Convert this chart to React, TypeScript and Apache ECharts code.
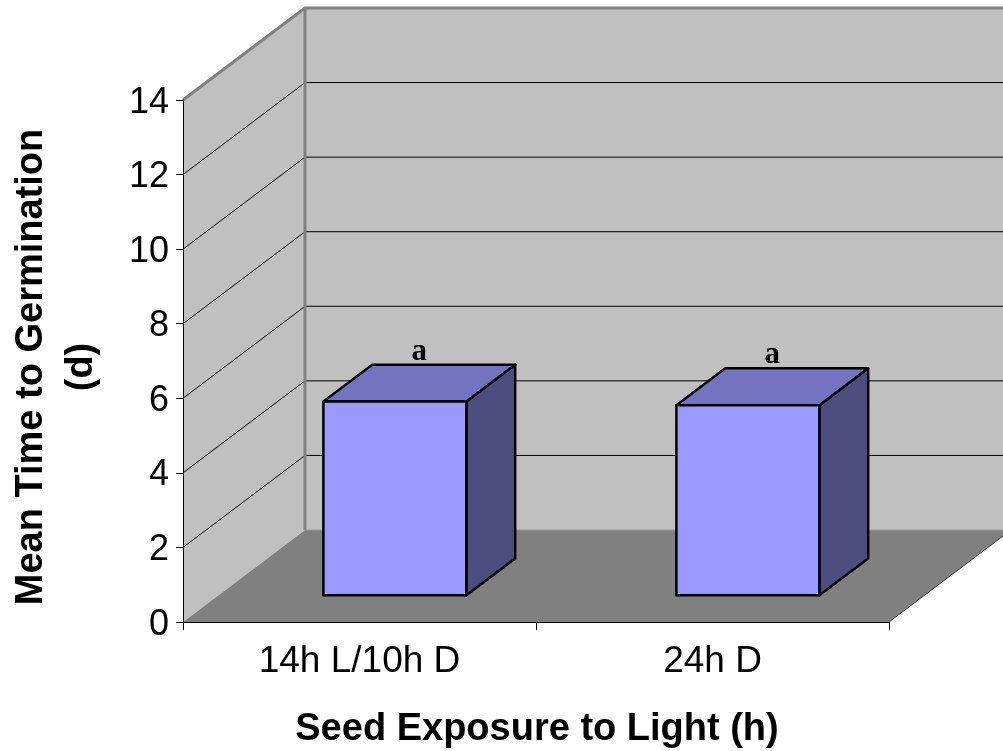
import React, { useEffect, useRef } from "react";
import * as echarts from "echarts";

const categories = ["14h L/10h D", "24h D"];
const meanDays = [5.2, 5.1];
const annotations = ["a", "a"];
const yTicks = [0, 2, 4, 6, 8, 10, 12, 14];

const DEPTH_X = 122;
const DEPTH_Y = 92;
const BAR_FRONT = 0.29;
const BAR_DEPTH = 0.4;
const BAR_WIDTH = 0.405;

export default function App() {
  const ref = useRef<HTMLDivElement>(null);
  useEffect(() => {
    if (!ref.current) return;
    const chart = echarts.init(ref.current, null, { renderer: "svg" });

    const renderBackground = (params: any, api: any) => {
      const cs = params.coordSys;
      const left = cs.x;
      const right = cs.x + cs.width;
      const y0 = api.coord([0, 0])[1];
      const yTop = api.coord([0, yTicks[yTicks.length - 1]])[1];
      const children: any[] = [];
      children.push({
        type: "polygon",
        shape: {
          points: [
            [left + DEPTH_X, yTop - DEPTH_Y],
            [right + DEPTH_X, yTop - DEPTH_Y],
            [right + DEPTH_X, y0 - DEPTH_Y],
            [left + DEPTH_X, y0 - DEPTH_Y],
          ],
        },
        style: { fill: "#C0C0C0", stroke: "none" },
      });
      children.push({
        type: "polygon",
        shape: {
          points: [
            [left, y0],
            [left, yTop],
            [left + DEPTH_X, yTop - DEPTH_Y],
            [left + DEPTH_X, y0 - DEPTH_Y],
          ],
        },
        style: { fill: "#C0C0C0", stroke: "none" },
      });
      yTicks.forEach((t, i) => {
        if (i === 0 || i === yTicks.length - 1) return;
        const y = api.coord([0, t])[1];
        children.push({
          type: "polyline",
          shape: {
            points: [
              [left, y],
              [left + DEPTH_X, y - DEPTH_Y],
              [right + DEPTH_X + 20, y - DEPTH_Y],
            ],
          },
          style: { stroke: "#000", lineWidth: 1, fill: "none" },
        });
      });
      children.push({
        type: "polyline",
        shape: {
          points: [
            [left, yTop],
            [left + DEPTH_X, yTop - DEPTH_Y],
            [right + DEPTH_X + 20, yTop - DEPTH_Y],
          ],
        },
        style: { stroke: "#808080", lineWidth: 3, fill: "none" },
      });
      children.push({
        type: "line",
        shape: { x1: left + DEPTH_X, y1: yTop - DEPTH_Y, x2: left + DEPTH_X, y2: y0 - DEPTH_Y },
        style: { stroke: "#808080", lineWidth: 3 },
      });
      children.push({
        type: "polygon",
        shape: {
          points: [
            [left, y0],
            [right, y0],
            [right + DEPTH_X, y0 - DEPTH_Y],
            [left + DEPTH_X, y0 - DEPTH_Y],
          ],
        },
        style: { fill: "#808080", stroke: "none" },
      });
      children.push({
        type: "line",
        shape: { x1: left + DEPTH_X, y1: y0 - DEPTH_Y, x2: right + DEPTH_X + 20, y2: y0 - DEPTH_Y },
        style: { stroke: "#999999", lineWidth: 1 },
      });
      children.push({
        type: "line",
        shape: { x1: right, y1: y0, x2: right + DEPTH_X, y2: y0 - DEPTH_Y },
        style: { stroke: "#333333", lineWidth: 1 },
      });
      return { type: "group", children };
    };

    const renderBar = (params: any, api: any) => {
      const idx = api.value(0);
      const v = api.value(1);
      const base = api.coord([idx, 0]);
      const top = api.coord([idx, v]);
      const band = api.size([1, 0])[0];
      const w = band * BAR_WIDTH;
      const fx = BAR_FRONT * DEPTH_X;
      const fy = BAR_FRONT * DEPTH_Y;
      const bdx = BAR_DEPTH * DEPTH_X;
      const bdy = BAR_DEPTH * DEPTH_Y;
      const x0 = base[0] - w / 2 + fx;
      const x1 = x0 + w;
      const yb = base[1] - fy;
      const yt = top[1] - fy;
      const stroke = { stroke: "#000", lineWidth: 2.5, lineJoin: "round" };
      return {
        type: "group",
        children: [
          {
            type: "polygon",
            shape: { points: [[x1, yt], [x1 + bdx, yt - bdy], [x1 + bdx, yb - bdy], [x1, yb]] },
            style: { fill: "#4D4D80", ...stroke },
          },
          {
            type: "polygon",
            shape: { points: [[x0, yt], [x1, yt], [x1 + bdx, yt - bdy], [x0 + bdx, yt - bdy]] },
            style: { fill: "#7373BF", ...stroke },
          },
          {
            type: "rect",
            shape: { x: x0, y: yt, width: w, height: yb - yt },
            style: { fill: "#9999FF", ...stroke },
          },
          {
            type: "text",
            style: {
              text: annotations[idx],
              x: (x0 + x1) / 2 + bdx / 2,
              y: yt - bdy,
              align: "center",
              verticalAlign: "bottom",
              fill: "#000",
              font: "bold 31px 'Liberation Serif', 'Times New Roman', serif",
            },
          },
        ],
      };
    };

    chart.setOption({
      animation: false,
      grid: { left: 183, top: 100, width: 706, height: 522 },
      xAxis: {
        type: "category",
        data: categories,
        axisLine: { show: true, lineStyle: { color: "#000", width: 1 } },
        axisTick: { show: true, length: 8, lineStyle: { color: "#000" } },
        axisLabel: {
          color: "#000",
          fontSize: 37,
          fontFamily: "'Liberation Sans', Arial, sans-serif",
          margin: 19,
        },
        splitLine: { show: false },
        z: 10,
      },
      yAxis: {
        type: "value",
        min: 0,
        max: 14,
        interval: 2,
        axisLine: { show: true, lineStyle: { color: "#000", width: 1 } },
        axisTick: { show: true, length: 7, lineStyle: { color: "#000" } },
        axisLabel: {
          color: "#000",
          fontSize: 36,
          fontFamily: "'Liberation Sans', Arial, sans-serif",
          margin: 14,
        },
        splitLine: { show: false },
        z: 10,
      },
      series: [
        {
          type: "custom",
          renderItem: renderBackground,
          data: [[0, 0]],
          silent: true,
          z: 1,
        },
        {
          type: "custom",
          renderItem: renderBar,
          data: meanDays.map((v, i) => [i, v]),
          z: 5,
        },
      ],
      graphic: [
        {
          type: "text",
          x: 537,
          y: 727,
          style: {
            text: "Seed Exposure to Light (h)",
            align: "center",
            verticalAlign: "middle",
            fill: "#000",
            font: "bold 38px 'Liberation Sans', Arial, sans-serif",
          },
        },
        {
          type: "text",
          x: 54,
          y: 367,
          rotation: Math.PI / 2,
          style: {
            text: "Mean Time to Germination\n(d)",
            align: "center",
            verticalAlign: "middle",
            lineHeight: 50,
            fill: "#000",
            font: "bold 38px 'Liberation Sans', Arial, sans-serif",
          },
        },
      ],
    });
    return () => chart.dispose();
  }, []);
  return (
    <div
      ref={ref}
      style={{ position: "fixed", left: 0, top: 0, width: 1003, height: 751 }}
    />
  );
}
